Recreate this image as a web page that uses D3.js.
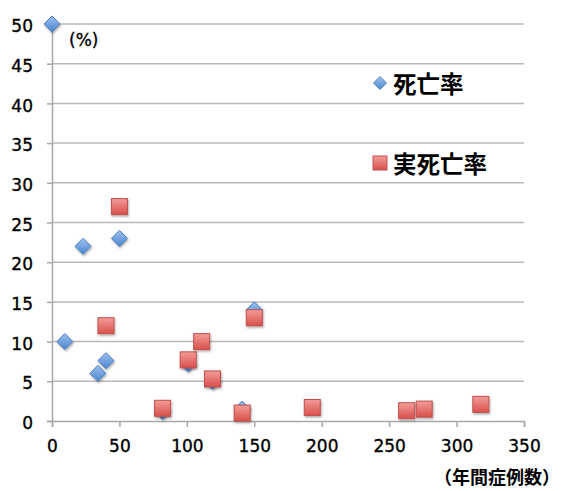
<!DOCTYPE html>
<html>
<head>
<meta charset="utf-8">
<script src="https://cdn.jsdelivr.net/npm/d3@7"></script>
<style>
  html, body { margin: 0; padding: 0; background: #fff; }
  svg { display: block; }
  .tick text { font-family: "DejaVu Sans", sans-serif; font-size: 17px; fill: #000; stroke: #000; stroke-width: 0.35px; }
</style>
</head>
<body>
<svg id="chart" width="563" height="491"></svg>
<script>
// 死亡率 (crude mortality) per hospital: annual case count vs. rate (%)
const mortalityCases = [0, 9.5, 23, 34, 40, 50, 82, 101, 119, 141, 150];
const mortalityRates = [50, 10, 22, 6, 7.6, 23, 1.2, 7.2, 5.0, 1.5, 14];

// 実死亡率 (actual mortality)
const actualCases = [40, 50, 82, 101, 111, 119, 141, 150, 193, 263, 276, 318];
const actualRates = [12, 27, 1.6, 7.7, 10, 5.3, 1.0, 13, 1.7, 1.3, 1.5, 2.1];

const xTicks = [0, 50, 100, 150, 200, 250, 300, 350];
const yTicks = [0, 5, 10, 15, 20, 25, 30, 35, 40, 45, 50];

const legendLabels = ["死亡率", "実死亡率"];
const yUnitLabel = "(%)";
const xUnitLabel = "（年間症例数）";

const svg = d3.select("#chart");
const margin = { left: 52, top: 24, right: 39, bottom: 70 };
const W = 563, H = 491;

const x = d3.scaleLinear().domain([0, 350]).range([margin.left, W - margin.right]);
const y = d3.scaleLinear().domain([0, 50]).range([H - margin.bottom, margin.top]);

const defs = svg.append("defs");
const blueGrad = defs.append("linearGradient").attr("id", "blueGrad")
  .attr("x1", 0).attr("y1", 0).attr("x2", 0).attr("y2", 1);
blueGrad.append("stop").attr("offset", "0%").attr("stop-color", "#9dc2ee");
blueGrad.append("stop").attr("offset", "100%").attr("stop-color", "#4c85d3");
const redGrad = defs.append("linearGradient").attr("id", "redGrad")
  .attr("x1", 0).attr("y1", 0).attr("x2", 0).attr("y2", 1);
redGrad.append("stop").attr("offset", "0%").attr("stop-color", "#f39c98");
redGrad.append("stop").attr("offset", "100%").attr("stop-color", "#d8504b");
const shadow = defs.append("filter").attr("id", "shadow")
  .attr("x", "-50%").attr("y", "-50%").attr("width", "200%").attr("height", "200%");
shadow.append("feDropShadow").attr("dx", 0.8).attr("dy", 1.5)
  .attr("stdDeviation", 1.2).attr("flood-color", "#000").attr("flood-opacity", 0.35);

// horizontal gridlines
svg.append("g")
  .selectAll("line")
  .data(yTicks.filter(d => d > 0))
  .join("line")
  .attr("x1", x(0)).attr("x2", x(350))
  .attr("y1", d => y(d)).attr("y2", d => y(d))
  .attr("stroke", "#b9b9b9").attr("stroke-width", 1.5);

// y axis
const yAxis = svg.append("g")
  .attr("transform", `translate(${x(0)},0)`)
  .call(d3.axisLeft(y).tickValues(yTicks).tickSize(5).tickPadding(14).tickFormat(d3.format("d")));
yAxis.select(".domain").attr("stroke", "#a8a8a8").attr("stroke-width", 1.5);
yAxis.selectAll(".tick line").attr("stroke", "#a8a8a8").attr("stroke-width", 1.5);
yAxis.selectAll(".tick text").attr("dy", "0.45em");

// x axis
const xAxis = svg.append("g")
  .attr("transform", `translate(0,${y(0)})`)
  .call(d3.axisBottom(x).tickValues(xTicks).tickSize(6).tickPadding(13).tickFormat(d3.format("d")));
xAxis.select(".domain").attr("stroke", "#a8a8a8").attr("stroke-width", 1.5);
xAxis.selectAll(".tick line").attr("stroke", "#a8a8a8").attr("stroke-width", 1.5);

const diamond = (s) => `M0,${-s}L${s},0L0,${s}L${-s},0Z`;

// 死亡率 diamonds
svg.append("g")
  .selectAll("path")
  .data(mortalityCases.map((c, i) => [c, mortalityRates[i]]))
  .join("path")
  .attr("transform", d => `translate(${x(d[0])},${y(d[1])})`)
  .attr("d", diamond(8))
  .attr("fill", "url(#blueGrad)")
  .attr("stroke", "#4f7fc0").attr("stroke-width", 1)
  .attr("filter", "url(#shadow)");

// 実死亡率 squares
svg.append("g")
  .selectAll("rect")
  .data(actualCases.map((c, i) => [c, actualRates[i]]))
  .join("rect")
  .attr("x", d => x(d[0]) - 8).attr("y", d => y(d[1]) - 8)
  .attr("width", 16).attr("height", 16)
  .attr("fill", "url(#redGrad)")
  .attr("stroke", "#c0504d").attr("stroke-width", 1)
  .attr("filter", "url(#shadow)");

// legend
const legend = svg.append("g");
legend.append("path")
  .attr("transform", "translate(380,83)")
  .attr("d", diamond(6.5))
  .attr("fill", "url(#blueGrad)").attr("stroke", "#4f7fc0");
legend.append("rect")
  .attr("x", 373).attr("y", 156).attr("width", 14).attr("height", 14)
  .attr("fill", "url(#redGrad)").attr("stroke", "#c0504d");
legend.selectAll("text")
  .data(legendLabels)
  .join("text")
  .attr("x", 393)
  .attr("y", (d, i) => i === 0 ? 85 : 165)
  .attr("dy", "0.36em")
  .attr("font-family", "'Noto Sans CJK JP', sans-serif")
  .attr("font-weight", "bold")
  .attr("font-size", 23.5)
  .attr("fill", "#000")
  .text(d => d);

// unit labels
svg.append("text")
  .attr("x", 69).attr("y", 40).attr("dy", "0.36em")
  .attr("font-family", "'DejaVu Sans', sans-serif")
  .attr("font-size", 17).attr("fill", "#000")
  .attr("stroke", "#000").attr("stroke-width", 0.35)
  .text(yUnitLabel);

svg.append("text")
  .attr("x", 560).attr("y", 478).attr("dy", "0.36em")
  .attr("text-anchor", "end")
  .attr("font-family", "'Noto Sans CJK JP', sans-serif")
  .attr("font-weight", "bold")
  .attr("font-size", 18).attr("fill", "#000")
  .text(xUnitLabel);
</script>
</body>
</html>
